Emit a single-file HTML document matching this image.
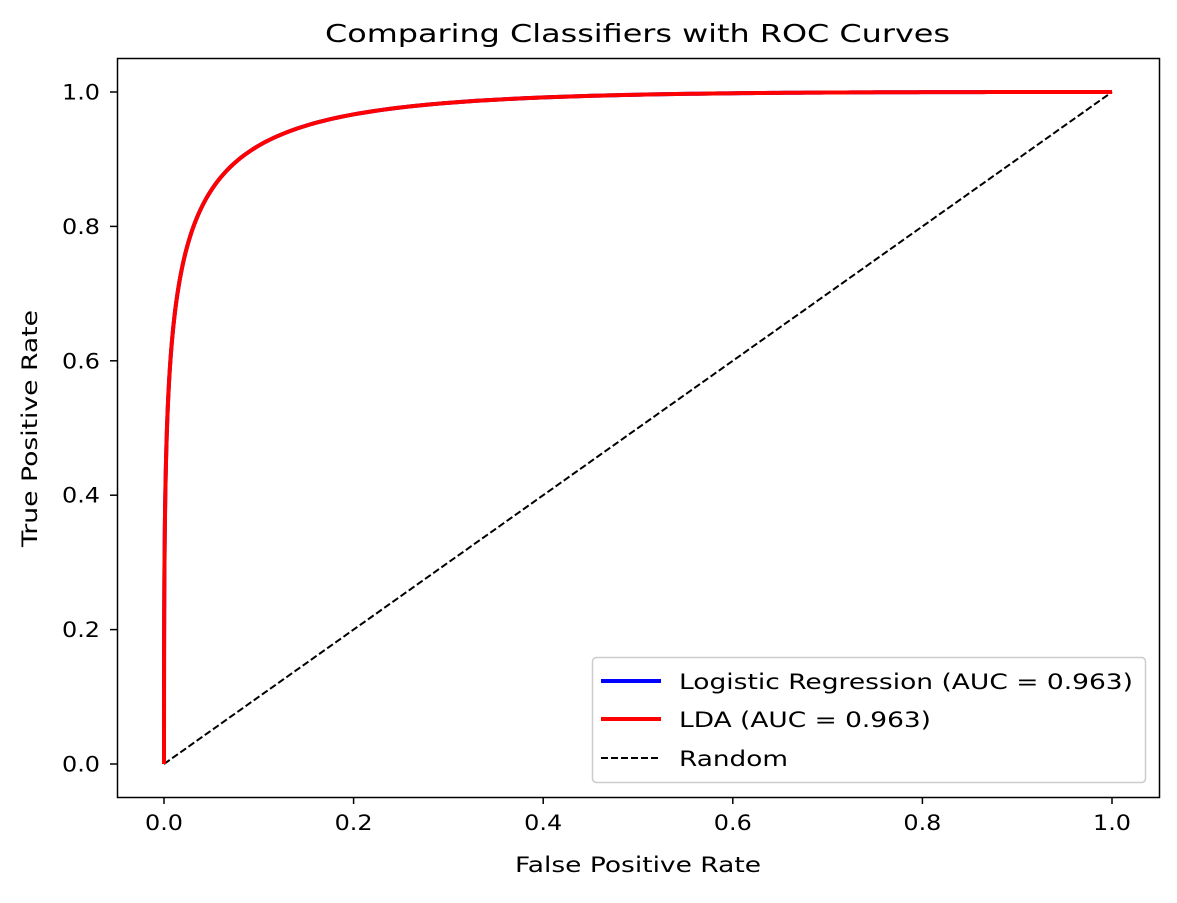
<!DOCTYPE html>
<html><head><meta charset="utf-8"><style>
body{margin:0;background:#fff;}
svg text{font-family:"DejaVu Sans","Liberation Sans",sans-serif;fill:#000;}
</style></head><body>
<svg id="s" width="1177" height="898" xmlns="http://www.w3.org/2000/svg">
<rect width="1177" height="898" fill="#fff"/>
<text x="325" y="42" font-size="25" textLength="625" lengthAdjust="spacingAndGlyphs">Comparing Classifiers with ROC Curves</text>
<line x1="164" y1="764" x2="1112" y2="92" stroke="#000" stroke-width="2" stroke-dasharray="7,3"/>
<path id="c1" fill="none" stroke="#0000ff" stroke-width="4"/>
<path id="c2" fill="none" stroke="#ff0000" stroke-width="4"/>
<rect x="117.5" y="58.5" width="1042" height="739" fill="none" stroke="#000" stroke-width="1.5"/>
<g font-size="21">
<line x1="164" y1="797" x2="164" y2="804" stroke="#000" stroke-width="1.5"/><text x="145" y="830" textLength="38" lengthAdjust="spacingAndGlyphs">0.0</text>
<line x1="353.6" y1="797" x2="353.6" y2="804" stroke="#000" stroke-width="1.5"/><text x="334.6" y="830" textLength="38" lengthAdjust="spacingAndGlyphs">0.2</text>
<line x1="543.2" y1="797" x2="543.2" y2="804" stroke="#000" stroke-width="1.5"/><text x="524.2" y="830" textLength="38" lengthAdjust="spacingAndGlyphs">0.4</text>
<line x1="732.8" y1="797" x2="732.8" y2="804" stroke="#000" stroke-width="1.5"/><text x="713.8" y="830" textLength="38" lengthAdjust="spacingAndGlyphs">0.6</text>
<line x1="922.4" y1="797" x2="922.4" y2="804" stroke="#000" stroke-width="1.5"/><text x="903.4" y="830" textLength="38" lengthAdjust="spacingAndGlyphs">0.8</text>
<line x1="1112" y1="797" x2="1112" y2="804" stroke="#000" stroke-width="1.5"/><text x="1093" y="830" textLength="38" lengthAdjust="spacingAndGlyphs">1.0</text>
</g>
<g font-size="21">
<line x1="110" y1="764" x2="117" y2="764" stroke="#000" stroke-width="1.5"/><text x="62" y="771.5" textLength="38" lengthAdjust="spacingAndGlyphs">0.0</text>
<line x1="110" y1="629.6" x2="117" y2="629.6" stroke="#000" stroke-width="1.5"/><text x="62" y="637" textLength="38" lengthAdjust="spacingAndGlyphs">0.2</text>
<line x1="110" y1="495.2" x2="117" y2="495.2" stroke="#000" stroke-width="1.5"/><text x="62" y="502.7" textLength="38" lengthAdjust="spacingAndGlyphs">0.4</text>
<line x1="110" y1="360.8" x2="117" y2="360.8" stroke="#000" stroke-width="1.5"/><text x="62" y="368.3" textLength="38" lengthAdjust="spacingAndGlyphs">0.6</text>
<line x1="110" y1="226.4" x2="117" y2="226.4" stroke="#000" stroke-width="1.5"/><text x="62" y="233.9" textLength="38" lengthAdjust="spacingAndGlyphs">0.8</text>
<line x1="110" y1="92" x2="117" y2="92" stroke="#000" stroke-width="1.5"/><text x="62" y="99.5" textLength="38" lengthAdjust="spacingAndGlyphs">1.0</text>
</g>
<text x="515" y="872" font-size="21" textLength="246" lengthAdjust="spacingAndGlyphs">False Positive Rate</text>
<text transform="translate(37,547) rotate(-90)" font-size="21" textLength="237" lengthAdjust="spacingAndGlyphs">True Positive Rate</text>
<rect x="592.5" y="657.5" width="553" height="125" rx="4" fill="#fff" fill-opacity="0.8" stroke="#ccc" stroke-width="1.5"/>
<line x1="601" y1="681" x2="661" y2="681" stroke="#0000ff" stroke-width="4"/>
<line x1="601" y1="719" x2="661" y2="719" stroke="#ff0000" stroke-width="4"/>
<line x1="601" y1="758" x2="661" y2="758" stroke="#000" stroke-width="2" stroke-dasharray="7,3"/>
<g font-size="21"><text x="679" y="689" textLength="454" lengthAdjust="spacingAndGlyphs">Logistic Regression (AUC = 0.963)</text>
<text x="679" y="727" textLength="252" lengthAdjust="spacingAndGlyphs">LDA (AUC = 0.963)</text>
<text x="679" y="766" textLength="109" lengthAdjust="spacingAndGlyphs">Random</text></g>
</svg>
<script>
function erf(x){var s=x<0?-1:1;x=Math.abs(x);var t=1/(1+0.3275911*x);var y=1-(((((1.061405429*t-1.453152027)*t)+1.421413741)*t-0.284496736)*t+0.254829592)*t*Math.exp(-x*x);return s*y;}
function Phi(z){return 0.5*(1+erf(z/Math.SQRT2));}
var d="M164,764";
for(var z=-6;z<=4.5;z+=0.02){var f=Phi(z),t=Phi(2.65+0.97*z);d+=" L"+(164+948*f).toFixed(2)+","+(764-672*t).toFixed(2);}
d+=" L1112,92";
document.getElementById("c1").setAttribute("d",d);
document.getElementById("c2").setAttribute("d",d);
</script>
</body></html>
